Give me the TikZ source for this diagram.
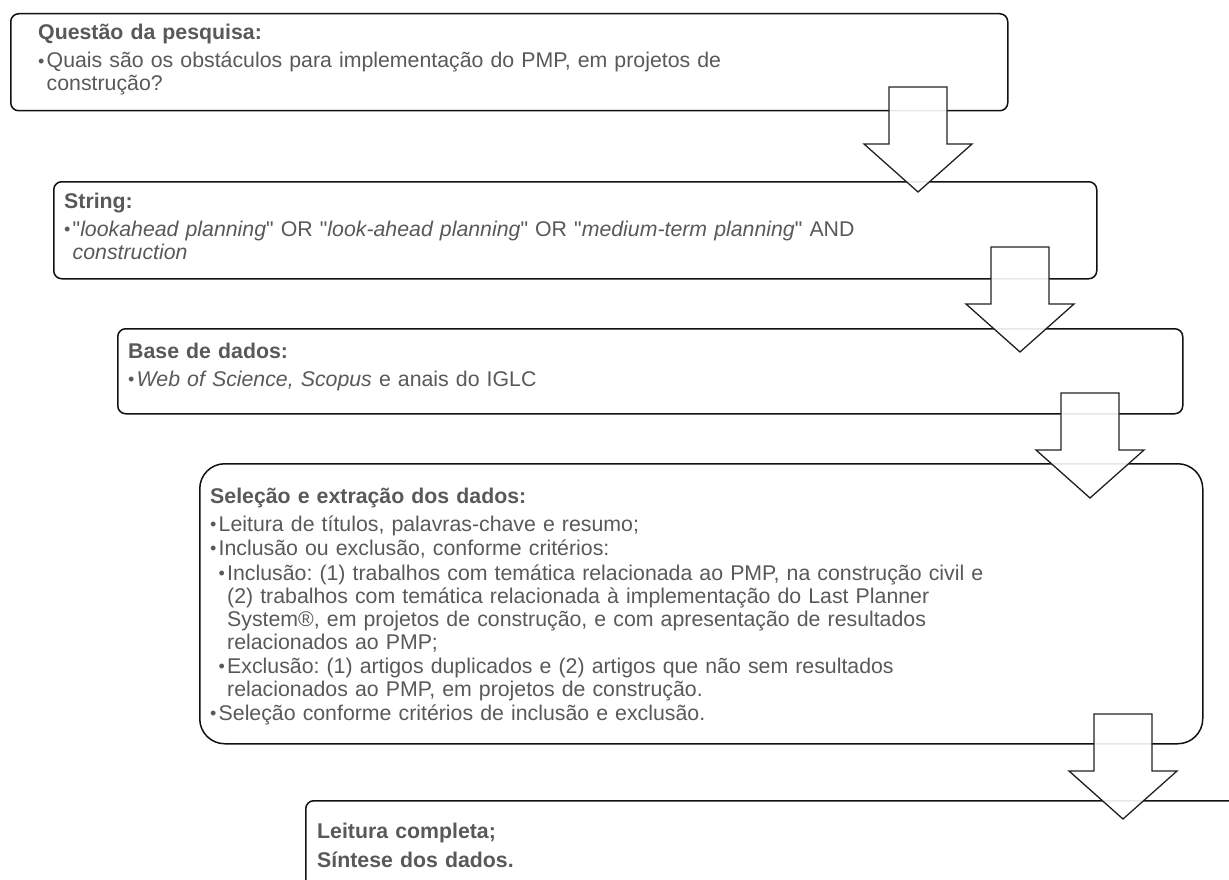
\documentclass[tikz,border=0pt]{standalone}
\usepackage{fontspec}
\setmainfont{Liberation Sans}[Ligatures=TeXOff]
\usetikzlibrary{backgrounds}
\definecolor{ink}{HTML}{595959}
\definecolor{frame}{HTML}{111111}
\definecolor{arrowline}{HTML}{222222}
\newcommand{\bl}{\makebox[8.5pt][l]{\fontsize{18}{18}\selectfont\raisebox{.6pt}{\textbullet}}}
\newcommand{\hang}{\hspace*{8.5pt}}
\newcommand{\dq}{\symbol{34}}
\tikzset{
  stage/.style={draw=frame, fill=white, line width=1.5pt, rounded corners=8pt,
    anchor=north west, inner sep=0pt},
  bigstage/.style={stage, rounded corners=25pt},
  stagetext/.style={text=ink, anchor=base west, inner sep=0pt, align=left,
    text width=1000pt, font=\fontsize{21.3}{23}\selectfont\frenchspacing},
  blockarrow/.style={draw=arrowline, fill=white, fill opacity=.9,
    line width=1.3pt, line join=miter},
  downarrow/.pic={\draw[blockarrow] (-29,0) -- (29,0) -- (29,57) -- (54,57)
    -- (0,105) -- (-54,57) -- (-29,57) -- cycle;}
}

\begin{document}
\begin{tikzpicture}[x=1pt,y=-1pt]
\clip (0,0) rectangle (1229,880);
\fill[white] (0,0) rectangle (1229,880);

% ---------------------------------------------------------------------------
% Stages of the review, stepping to the right.
% ---------------------------------------------------------------------------
\node[stage, minimum width=997pt, minimum height=97pt] (question) at (10,13) {};
\node[stage, minimum width=1043pt, minimum height=97pt] (searchstring) at (53,181) {};
\node[stage, minimum width=1065pt, minimum height=85pt] (databases) at (117,328) {};
\node[bigstage, minimum width=1003pt, minimum height=280pt] (selection) at (199,463) {};
\node[stage, minimum width=1000pt, minimum height=150pt] (synthesis) at (305,800) {};

\node[stagetext] (questiontext) at (38,40)
  {\textbf{Questão da pesquisa:}\\[5pt]
   \bl Quais são os obstáculos para implementação do PMP, em projetos de\\
   \hang construção?};

\node[stagetext] (stringtext) at (64,208)
  {\textbf{String:}\\[5pt]
   \bl\dq\textit{lookahead planning}\dq{} OR \dq\textit{look-ahead planning}\dq{} OR \dq\textit{medium-term planning}\dq{} AND\\
   \hang\textit{construction}};

\node[stagetext] (databasetext) at (128,358)
  {\textbf{Base de dados:}\\[5pt]
   \bl\textit{Web of Science, Scopus} e anais do IGLC};

\node[stagetext] (selectiontext) at (210,503)
  {\textbf{Seleção e extração dos dados:}\\[5pt]
   \bl Leitura de títulos, palavras-chave e resumo;\\[1pt]
   \bl Inclusão ou exclusão, conforme critérios:\\[2pt]
   \hang\bl Inclusão: (1) trabalhos com temática relacionada ao PMP, na construção civil e\\
   \hang\hang(2) trabalhos com temática relacionada à implementação do Last Planner\\
   \hang\hang System®, em projetos de construção, e com apresentação de resultados\\
   \hang\hang relacionados ao PMP;\\[1pt]
   \hang\bl Exclusão: (1) artigos duplicados e (2) artigos que não sem resultados\\
   \hang\hang relacionados ao PMP, em projetos de construção.\\[1pt]
   \bl Seleção conforme critérios de inclusão e exclusão.};

\node[stagetext] (synthesistext) at (317,838)
  {\textbf{Leitura completa;}\\[6pt]
   \textbf{Síntese dos dados.}};

% Block arrows between the stages (drawn on top).
\pic at (918,87) {downarrow};
\pic at (1020,247) {downarrow};
\pic at (1090,393) {downarrow};
\pic at (1123,714) {downarrow};

\end{tikzpicture}
\end{document}
